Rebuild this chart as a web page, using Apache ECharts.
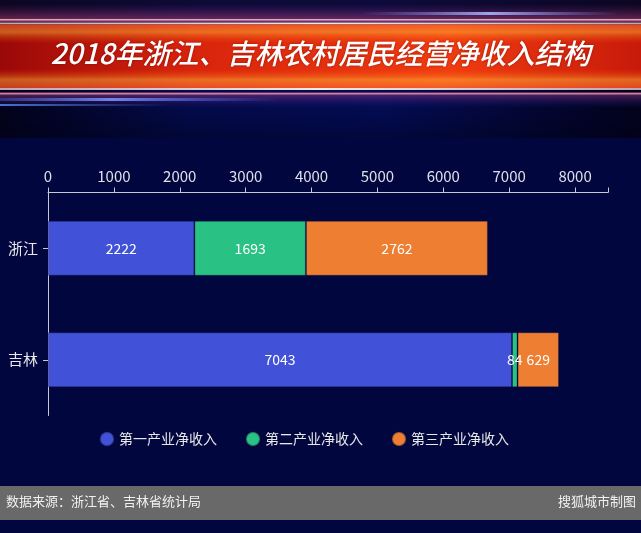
<!DOCTYPE html>
<html>
<head>
<meta charset="utf-8">
<script src="https://cdn.jsdelivr.net/npm/echarts@6/dist/echarts.min.js"></script>
<style>
html,body{margin:0;padding:0;background:#01063e;}
#c{width:641px;height:533px;}
</style>
</head>
<body>
<div id="c"></div>
<script>
const categories = ['浙江', '吉林'];
const seriesNames = ['第一产业净收入', '第二产业净收入', '第三产业净收入'];
const primary = [2222, 7043];
const secondary = [1693, 84];
const tertiary = [2762, 629];
const xTicks = [0, 1000, 2000, 3000, 4000, 5000, 6000, 7000, 8000];
const titleText = '2018年浙江、吉林农村居民经营净收入结构';
const sourceText = '数据来源：浙江省、吉林省统计局';
const creditText = '搜狐城市制图';

const colors = ['#4152D9', '#29C184', '#EE7E32'];
const font = '"Noto Sans CJK SC", "Noto Sans", sans-serif';

const chart = echarts.init(document.getElementById('c'));

function lg(x1, y1, x2, y2, stops) {
  return new echarts.graphic.LinearGradient(x1, y1, x2, y2, stops.map(s => ({offset: s[0], color: s[1]})));
}

const graphics = [
  // header backdrop
  {type: 'rect', shape: {x: 0, y: 0, width: 641, height: 138}, z: -10,
   style: {fill: lg(0, 0, 1, 0, [[0, '#02021a'], [0.3, '#030a4a'], [0.6, '#030b52'], [1, '#02021c']])}},
  {type: 'rect', shape: {x: 0, y: 0, width: 641, height: 138}, z: -10,
   style: {fill: lg(0, 0, 0, 1, [[0, 'rgba(20,10,40,0.6)'], [0.3, 'rgba(20,10,40,0)'], [0.8, 'rgba(0,0,20,0)'], [1, 'rgba(0,0,20,0.35)']])}},
  // pink/purple glow above band
  {type: 'rect', shape: {x: 0, y: 4, width: 641, height: 18}, z: -9,
   style: {fill: lg(0, 0, 0, 1, [[0, 'rgba(150,40,120,0)'], [1, 'rgba(220,80,130,0.55)']])}},
  // glow below band
  {type: 'rect', shape: {x: 0, y: 92, width: 641, height: 16}, z: -9,
   style: {fill: lg(0, 0, 0, 1, [[0, 'rgba(200,70,120,0.55)'], [0.5, 'rgba(90,40,140,0.35)'], [1, 'rgba(40,30,120,0)']])}},
  // blue streak top right
  {type: 'rect', shape: {x: 360, y: 12, width: 260, height: 3}, z: -8,
   style: {fill: lg(0, 0, 1, 0, [[0, 'rgba(120,140,255,0)'], [0.5, 'rgba(170,180,255,0.9)'], [1, 'rgba(120,140,255,0)']])}},
  // blue streaks bottom left
  {type: 'rect', shape: {x: 0, y: 98, width: 280, height: 3}, z: -8,
   style: {fill: lg(0, 0, 1, 0, [[0, 'rgba(90,120,255,0.3)'], [0.4, 'rgba(130,150,255,0.85)'], [1, 'rgba(90,120,255,0)']])}},
  {type: 'rect', shape: {x: 0, y: 104, width: 170, height: 2}, z: -8,
   style: {fill: lg(0, 0, 1, 0, [[0, 'rgba(90,140,255,0.8)'], [1, 'rgba(90,140,255,0)']])}},
  // white thin lines
  {type: 'rect', shape: {x: 0, y: 19, width: 641, height: 1.5}, z: -7,
   style: {fill: 'rgba(255,215,225,0.75)'}},
  {type: 'rect', shape: {x: 0, y: 22.5, width: 641, height: 2}, z: -7,
   style: {fill: lg(0, 0, 1, 0, [[0, 'rgba(255,220,230,0.75)'], [0.5, 'rgba(255,245,240,0.95)'], [1, 'rgba(255,220,230,0.75)']])}},
  {type: 'rect', shape: {x: 0, y: 88, width: 641, height: 2}, z: -7,
   style: {fill: lg(0, 0, 1, 0, [[0, 'rgba(255,220,230,0.75)'], [0.5, 'rgba(255,245,240,0.95)'], [1, 'rgba(255,220,230,0.75)']])}},
  {type: 'rect', shape: {x: 0, y: 93, width: 641, height: 1.5}, z: -7,
   style: {fill: 'rgba(255,200,215,0.6)'}},
  // red band
  {type: 'rect', shape: {x: 0, y: 24.5, width: 641, height: 63.5}, z: -6,
   style: {fill: lg(0, 0, 1, 0, [[0, '#9a0808'], [0.3, '#d8240c'], [0.7, '#f03c10'], [1, '#c81a0a']])}},
  {type: 'rect', shape: {x: 0, y: 24.5, width: 641, height: 63.5}, z: -5,
   style: {fill: lg(0, 0, 0, 1, [[0, 'rgba(255,120,60,0.45)'], [0.12, 'rgba(255,200,60,0.45)'], [0.3, 'rgba(255,80,0,0)'], [0.7, 'rgba(255,80,0,0)'], [0.87, 'rgba(255,200,60,0.45)'], [1, 'rgba(255,120,60,0.45)']])}},
  // title
  {type: 'text', left: 'center', top: 39, z: 10,
   style: {text: titleText, fill: '#ffffff', font: 'italic 500 28px ' + font,
           textShadowColor: 'rgba(90,0,0,0.5)', textShadowBlur: 3}},
  // footer bar
  {type: 'rect', shape: {x: 0, y: 486, width: 641, height: 34}, z: -5,
   style: {fill: '#696969'}},
  {type: 'text', left: 6, top: 495, z: 10,
   style: {text: sourceText, fill: '#f0f0f0', font: '13px ' + font}},
  {type: 'text', right: 5, top: 495, z: 10,
   style: {text: creditText, fill: '#f0f0f0', font: '13px ' + font}}
];

const mkSeries = (name, data, i) => ({
  name: name,
  type: 'bar',
  stack: 'total',
  data: data,
  barWidth: 55,
  itemStyle: {color: colors[i], borderColor: 'rgba(20,20,60,0.35)', borderWidth: 1},
  label: {show: true, position: 'inside', color: '#ffffff', fontSize: 14, fontFamily: font}
});

chart.setOption({
  backgroundColor: '#01063e',
  textStyle: {fontFamily: font},
  graphic: graphics,
  grid: {left: 48, right: 33, top: 192.5, bottom: 117.5, containLabel: false},
  legend: {
    data: seriesNames,
    top: 426,
    left: 94,
    icon: 'circle',
    itemWidth: 14,
    itemHeight: 14,
    itemGap: 28,
    textStyle: {color: '#e8e8e8', fontSize: 14, fontFamily: font}
  },
  xAxis: {
    type: 'value',
    position: 'top',
    min: 0,
    max: 8500,
    interval: 1000,
    axisLine: {show: true, lineStyle: {color: '#c8c8d4', width: 1}},
    axisTick: {show: true, length: 5, lineStyle: {color: '#c8c8d4'}},
    splitLine: {show: false},
    axisLabel: {
      color: '#e0e0e8', fontSize: 15, margin: 9,
      formatter: v => (xTicks.indexOf(v) >= 0 ? String(v) : '')
    }
  },
  yAxis: {
    type: 'category',
    data: categories,
    inverse: true,
    axisLine: {show: true, lineStyle: {color: '#c8c8d4', width: 1}},
    axisTick: {show: true, alignWithLabel: true, length: 5, lineStyle: {color: '#c8c8d4'}},
    axisLabel: {color: '#e8e8e8', fontSize: 15, margin: 10}
  },
  series: [
    mkSeries(seriesNames[0], primary, 0),
    mkSeries(seriesNames[1], secondary, 1),
    mkSeries(seriesNames[2], tertiary, 2)
  ]
});
</script>
</body>
</html>
